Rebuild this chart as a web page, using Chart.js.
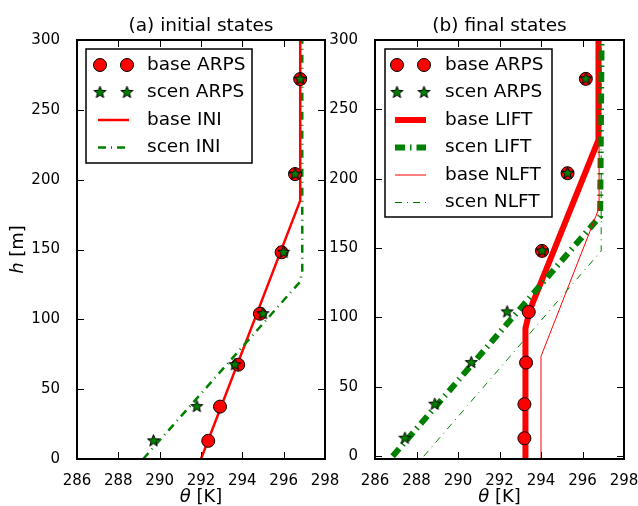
<!DOCTYPE html>
<html>
<head>
<meta charset="utf-8">
<script src="https://cdn.jsdelivr.net/npm/chart.js@4.4.0/dist/chart.umd.min.js"></script>
<style>
  html, body { margin: 0; padding: 0; background: #fff; }
  #wrap { position: relative; width: 638px; height: 506px; overflow: hidden; }
  #wrap canvas { position: absolute; top: 0; }
  #cA { left: 0; }
  #cB { left: 300px; }
</style>
</head>
<body>
<div id="wrap">
  <canvas id="cA" width="345" height="506"></canvas>
  <canvas id="cB" width="338" height="506"></canvas>
</div>
<script>
var FONT = "'DejaVu Sans', sans-serif";
var RED = '#ff0000', GREEN = '#008000';

var xTicks = [286, 288, 290, 292, 294, 296, 298];
var yTicks = [0, 50, 100, 150, 200, 250, 300];

// ARPS sample heights [m]
var arpsH = [13, 37.5, 67.5, 104, 148, 204, 272];

// (a) initial states
var iniBaseArps = [292.35, 292.92, 293.8, 294.85, 295.9, 296.55, 296.8];
var iniScenArps = [289.7, 291.8, 293.64, 295.0, 296.0, 296.55, 296.8];
var iniBaseT = [292.0, 296.8, 296.8];
var iniBaseH = [0, 185, 300];
var iniScenT = [289.2, 296.8, 296.9, 296.9];
var iniScenH = [0, 127, 135, 300];

// (b) final states
var finBaseArps = [293.2, 293.2, 293.28, 293.41, 294.05, 295.28, 296.16];
var finScenArps = [287.44, 288.88, 290.64, 292.37, 294.05, 295.28, 296.16];
var liftBaseT = [293.25, 293.25, 293.45, 296.77, 296.77];
var liftBaseH = [-2, 92, 105, 228, 300];
var liftScenT = [286.85, 296.85, 296.92];
var liftScenH = [0, 173, 300];
var nlftBaseT = [294.0, 294.0, 296.8, 296.8];
var nlftBaseH = [-2, 72, 179, 300];
var nlftScenT = [288.35, 296.9, 296.9];
var nlftScenH = [0, 148, 300];

function pts(xs, ys) {
    return xs.map(function (x, i) { return {x: x, y: ys[i]}; });
}

function makeStar(r) {
    var c = document.createElement('canvas');
    var s = Math.ceil(r * 2 + 4);
    c.width = s; c.height = s;
    var ctx = c.getContext('2d');
    ctx.beginPath();
    for (var i = 0; i < 10; i++) {
        var rad = i % 2 ? r * 0.42 : r;
        var a = -Math.PI / 2 + i * Math.PI / 5;
        ctx.lineTo(s / 2 + rad * Math.cos(a), s / 2 + rad * Math.sin(a));
    }
    ctx.closePath();
    ctx.fillStyle = GREEN;
    ctx.fill();
    ctx.lineWidth = 1;
    ctx.strokeStyle = '#000';
    ctx.stroke();
    return c;
}
var starImg = makeStar(6.3);

function arpsSet(label, xs, isStar) {
    return {
        label: label,
        data: pts(xs, arpsH),
        showLine: false,
        order: isStar ? 0 : 1,
        pointStyle: isStar ? starImg : 'circle',
        pointRadius: 6.5,
        pointBackgroundColor: RED,
        pointBorderColor: '#000',
        pointBorderWidth: 1
    };
}

function lineSet(label, xs, hs, color, width, dash, order) {
    return {
        label: label,
        data: pts(xs, hs),
        showLine: true,
        order: order,
        borderColor: color,
        borderWidth: width,
        borderDash: dash || [],
        pointRadius: 0,
        tension: 0,
        fill: false
    };
}

// inward ticks on all four sides plus the frame
var frameTicks = {
    id: 'frameTicks',
    afterDatasetsDraw: function (chart) {
        var ctx = chart.ctx, a = chart.chartArea;
        var sx = chart.scales.x, sy = chart.scales.y, L = 7;
        ctx.save();
        ctx.strokeStyle = '#000';
        ctx.lineWidth = 1;
        ctx.beginPath();
        sx.ticks.forEach(function (t) {
            var px = Math.round(sx.getPixelForValue(t.value)) + 0.5;
            ctx.moveTo(px, a.bottom); ctx.lineTo(px, a.bottom - L);
            ctx.moveTo(px, a.top); ctx.lineTo(px, a.top + L);
        });
        sy.ticks.forEach(function (t) {
            var py = Math.round(sy.getPixelForValue(t.value)) + 0.5;
            ctx.moveTo(a.left, py); ctx.lineTo(a.left + L, py);
            ctx.moveTo(a.right, py); ctx.lineTo(a.right - L, py);
        });
        ctx.stroke();
        ctx.lineWidth = 2;
        ctx.strokeRect(a.left, a.top, a.right - a.left, a.bottom - a.top);
        ctx.restore();
    }
};

// boxed legend, two markers per point entry
var boxLegend = {
    id: 'boxLegend',
    afterDraw: function (chart, args, opts) {
        var ctx = chart.ctx, a = chart.chartArea;
        var x0 = a.left + opts.left, y0 = a.top + opts.top;
        ctx.save();
        ctx.fillStyle = '#fff';
        ctx.fillRect(x0, y0, opts.width, opts.height);
        ctx.lineWidth = 1.5;
        ctx.strokeStyle = '#000';
        ctx.strokeRect(x0, y0, opts.width, opts.height);
        chart.data.datasets.forEach(function (ds, i) {
            var cy = y0 + 16 + i * 27.5;
            if (ds.showLine) {
                ctx.beginPath();
                ctx.setLineDash(ds.borderDash);
                ctx.lineWidth = ds.borderWidth;
                ctx.strokeStyle = ds.borderColor;
                ctx.moveTo(x0 + opts.mark - 2, cy);
                ctx.lineTo(x0 + opts.mark + 29, cy);
                ctx.stroke();
                ctx.setLineDash([]);
            } else {
                [0, 27].forEach(function (dx) {
                    var mx = x0 + opts.mark + dx;
                    if (ds.pointStyle === 'circle') {
                        ctx.beginPath();
                        ctx.arc(mx, cy, ds.pointRadius, 0, Math.PI * 2);
                        ctx.fillStyle = ds.pointBackgroundColor;
                        ctx.fill();
                        ctx.lineWidth = 1;
                        ctx.strokeStyle = '#000';
                        ctx.stroke();
                    } else {
                        ctx.drawImage(ds.pointStyle, mx - ds.pointStyle.width / 2, cy - ds.pointStyle.height / 2);
                    }
                });
            }
            ctx.fillStyle = '#000';
            ctx.font = '18.5px ' + FONT;
            ctx.textBaseline = 'middle';
            ctx.textAlign = 'left';
            ctx.fillText(ds.label, x0 + opts.text, cy);
        });
        ctx.restore();
    }
};

// axis labels with an italic symbol in front
function drawMixed(ctx, parts, cx, cy) {
    var fonts = ['italic 18px ' + FONT, '18px ' + FONT];
    var w = 0;
    parts.forEach(function (p, i) { ctx.font = fonts[i]; w += ctx.measureText(p).width; });
    var x = cx - w / 2;
    ctx.textBaseline = 'middle';
    ctx.textAlign = 'left';
    parts.forEach(function (p, i) {
        ctx.font = fonts[i];
        ctx.fillText(p, x, cy);
        x += ctx.measureText(p).width;
    });
}

var axisText = {
    id: 'axisText',
    afterDraw: function (chart, args, opts) {
        var ctx = chart.ctx, a = chart.chartArea;
        ctx.save();
        ctx.fillStyle = '#000';
        drawMixed(ctx, opts.x, (a.left + a.right) / 2, 497);
        if (opts.y) {
            ctx.translate(18, (a.top + a.bottom) / 2);
            ctx.rotate(-Math.PI / 2);
            drawMixed(ctx, opts.y, 0, 0);
        }
        ctx.restore();
    }
};

function makeChart(id, title, datasets, yMin, yWidth, padRight, legend, yLabel) {
    var tickFont = {family: FONT, size: 15};
    return new Chart(document.getElementById(id), {
        type: 'scatter',
        data: {datasets: datasets},
        options: {
            responsive: false,
            animation: false,
            devicePixelRatio: 1,
            events: [],
            layout: {padding: {left: 0, right: padRight, top: 0, bottom: 0}},
            scales: {
                x: {
                    type: 'linear', min: 286, max: 298,
                    afterBuildTicks: function (s) { s.ticks = xTicks.map(function (v) { return {value: v}; }); },
                    afterFit: function (s) { s.height = 47; s.paddingLeft = 0; s.paddingRight = 0; },
                    grid: {display: false}, border: {display: false},
                    ticks: {font: tickFont, color: '#000', padding: 5, maxRotation: 0}
                },
                y: {
                    type: 'linear', min: yMin, max: 300,
                    afterBuildTicks: function (s) { s.ticks = yTicks.map(function (v) { return {value: v}; }); },
                    afterFit: function (s) { s.width = yWidth; s.paddingTop = 0; s.paddingBottom = 0; },
                    grid: {display: false}, border: {display: false},
                    ticks: {font: tickFont, color: '#000', padding: 9}
                }
            },
            plugins: {
                legend: {display: false},
                tooltip: {enabled: false},
                title: {
                    display: true, text: title, fullSize: false, color: '#000',
                    font: {family: FONT, size: 18.5, weight: 'normal'},
                    padding: {top: 15, bottom: 2.8}
                },
                boxLegend: legend,
                axisText: {x: ['\u03b8', ' [K]'], y: yLabel}
            }
        },
        plugins: [frameTicks, boxLegend, axisText]
    });
}

makeChart('cA', '(a) initial states', [
    arpsSet('base ARPS', iniBaseArps, false),
    arpsSet('scen ARPS', iniScenArps, true),
    lineSet('base INI', iniBaseT, iniBaseH, RED, 2.5, [], 8),
    lineSet('scen INI', iniScenT, iniScenH, GREEN, 2.5, [8, 5, 1, 5], 7)
], 0, 77, 20, {left: 9, top: 9, width: 166, height: 114, mark: 14, text: 61}, ['h', ' [m]']);

makeChart('cB', '(b) final states', [
    arpsSet('base ARPS', finBaseArps, false),
    arpsSet('scen ARPS', finScenArps, true),
    lineSet('base LIFT', liftBaseT, liftBaseH, RED, 6, [], 8),
    lineSet('scen LIFT', liftScenT, liftScenH, GREEN, 6, [10, 5, 1.5, 5], 7),
    lineSet('base NLFT', nlftBaseT, nlftBaseH, RED, 1, [], 6),
    lineSet('scen NLFT', nlftScenT, nlftScenH, GREEN, 1, [7, 5, 1, 5], 5)
], -2, 75, 14, {left: 10, top: 9, width: 167, height: 168, mark: 12, text: 60}, null);
</script>
</body>
</html>
